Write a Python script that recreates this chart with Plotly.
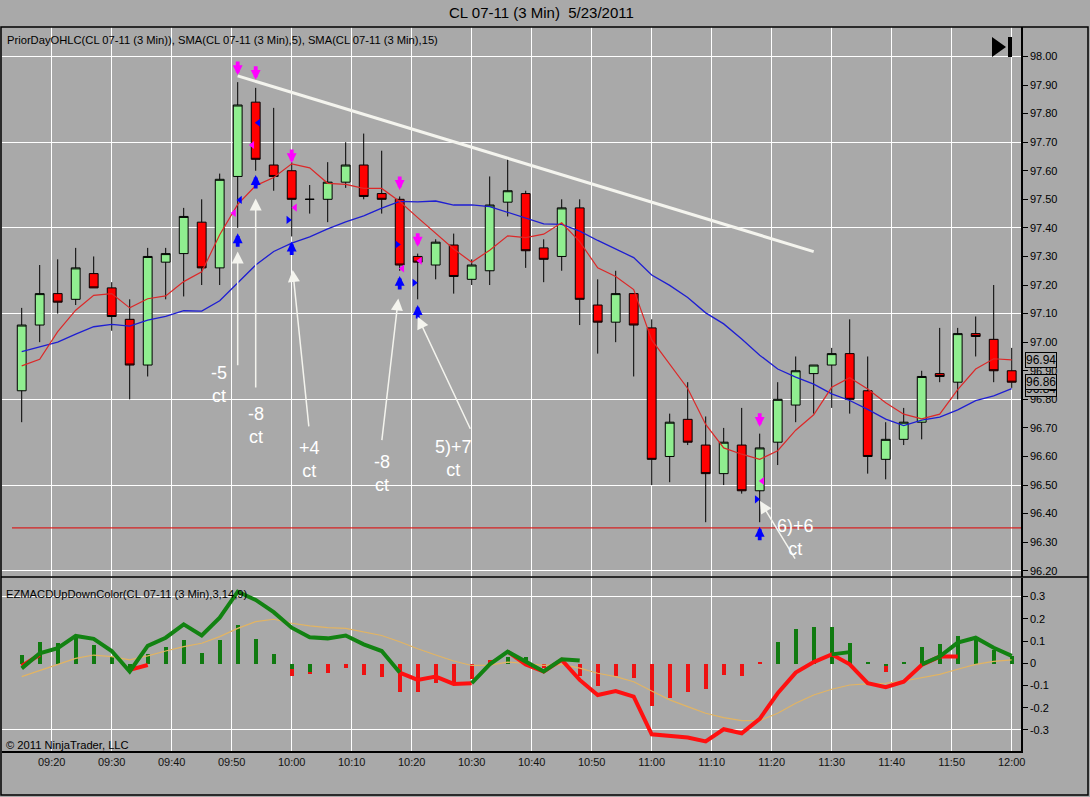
import pandas as pd
import plotly.graph_objects as go

# === DATA: CL 07-11, 3 min bars, 5/23/2011 ===
bar_times = pd.date_range('2011-05-23 09:15', periods=56, freq='3min')

opens = [96.83, 97.06, 97.17, 97.15, 97.24, 97.19, 97.08, 96.92, 97.28, 97.31,
         97.42, 97.26, 97.58, 97.84, 97.62, 97.60, 97.50, 97.50, 97.56, 97.62,
         97.52, 97.50, 97.30, 97.27, 97.34, 97.22, 97.25, 97.49, 97.52, 97.33,
         97.30, 97.47, 97.13, 97.07, 97.17, 97.05, 96.60, 96.73, 96.64, 96.54,
         96.64, 96.48, 96.65, 96.78, 96.89, 96.92, 96.96, 96.83, 96.59, 96.66,
         96.72, 96.89, 96.86, 97.03, 97.01, 96.90]
highs = [97.12, 97.27, 97.29, 97.33, 97.30, 97.21, 97.15, 97.33, 97.33, 97.47,
         97.50, 97.59, 97.91, 97.89, 97.82, 97.63, 97.55, 97.63, 97.70, 97.73,
         97.67, 97.51, 97.31, 97.36, 97.38, 97.29, 97.58, 97.64, 97.53, 97.36,
         97.50, 97.50, 97.22, 97.25, 97.17, 97.08, 96.75, 96.86, 96.74, 96.70,
         96.77, 96.68, 96.86, 96.95, 96.92, 96.98, 97.08, 96.95, 96.72, 96.77,
         96.90, 97.05, 97.05, 97.09, 97.20, 96.98]
lows = [96.72, 97.00, 97.10, 97.13, 97.19, 97.04, 96.80, 96.88, 97.15, 97.16,
        97.20, 97.20, 97.40, 97.60, 97.53, 97.37, 97.45, 97.42, 97.54, 97.50,
        97.45, 97.25, 97.15, 97.22, 97.17, 97.20, 97.20, 97.44, 97.26, 97.21,
        97.25, 97.06, 96.96, 97.00, 96.88, 96.50, 96.51, 96.64, 96.37, 96.50,
        96.47, 96.37, 96.57, 96.72, 96.75, 96.77, 96.75, 96.54, 96.52, 96.64,
        96.66, 96.86, 96.80, 96.95, 96.86, 96.84]
closes = [97.06, 97.17, 97.14, 97.26, 97.19, 97.09, 96.92, 97.30, 97.31, 97.44,
          97.26, 97.57, 97.83, 97.64, 97.58, 97.50, 97.50, 97.56, 97.62, 97.51,
          97.50, 97.27, 97.28, 97.35, 97.23, 97.27, 97.48, 97.53, 97.32, 97.29,
          97.47, 97.15, 97.07, 97.17, 97.06, 96.59, 96.72, 96.65, 96.54, 96.65,
          96.48, 96.63, 96.80, 96.90, 96.92, 96.96, 96.80, 96.60, 96.66, 96.72,
          96.88, 96.88, 97.03, 97.02, 96.90, 96.86]

sma5_warmup = [96.917, 96.94, 97.037, 97.112]
sma15_warmup = [96.967, 96.984, 97.00, 97.028, 97.054, 97.062, 97.056, 97.077,
                97.09, 97.11, 97.109, 97.145, 97.206, 97.27]

prior_day_low = 96.35
trend_times = ['2011-05-23 09:51', '2011-05-23 11:27']
trend_prices = [97.932, 97.317]

# EZMACDUpDownColor(3,14,9)
macd_up = [-0.023, 0.045, 0.068, 0.123, 0.11, 0.055, -0.037, 0.078, 0.115, 0.175,
           0.125, 0.205, 0.322, 0.285, 0.23, 0.16, 0.117, 0.112, 0.125, 0.085,
           0.055, -0.042, None, None, None, -0.09, -0.005, 0.052, 0.01, -0.037,
           0.018, 0.012, None, None, None, None, None, None, None, None,
           None, None, None, None, None, 0.04, 0.05, None, None, None,
           -0.005, 0.03, 0.093, 0.115, 0.07, 0.033]
macd_dn = [-0.012, 0.038, None, None, None, None, -0.03, -0.008, None, None,
           None, None, None, None, None, None, None, None, None, None,
           None, -0.042, -0.075, -0.06, -0.093, -0.09, None, 0.052, -0.005, -0.037,
           0.015, -0.075, -0.143, -0.125, -0.15, -0.32, -0.325, -0.334, -0.352, -0.297,
           -0.315, -0.25, -0.135, -0.042, 0.005, 0.04, -0.005, -0.09, -0.108, -0.083,
           -0.008, 0.03, 0.03, None, None, None]
signal = [-0.06, -0.033, -0.008, 0.022, 0.037, 0.03, 0.015, 0.033, 0.055, 0.075,
          0.09, 0.12, 0.157, 0.187, 0.198, 0.18, 0.168, 0.16, 0.157, 0.142,
          0.125, 0.097, 0.065, 0.037, 0.01, -0.01, -0.008, 0.005, 0.0, -0.01,
          -0.005, -0.022, -0.045, -0.06, -0.083, -0.125, -0.165, -0.195, -0.225, -0.245,
          -0.258, -0.258, -0.225, -0.18, -0.143, -0.117, -0.098, -0.093, -0.09, -0.08,
          -0.065, -0.05, -0.027, -0.005, 0.008, 0.015]
hist = [0.04, 0.10, 0.095, 0.123, 0.083, 0.03, -0.035, 0.045, 0.075, 0.105,
        0.048, 0.105, 0.175, 0.11, 0.042, -0.055, -0.048, -0.04, -0.02, -0.05,
        -0.06, -0.125, -0.128, -0.085, -0.095, -0.07, 0.015, 0.03, 0.03, -0.02,
        0.0, -0.055, -0.1, -0.055, -0.065, -0.19, -0.155, -0.128, -0.115, -0.05,
        -0.053, 0.01, 0.1, 0.155, 0.165, 0.165, 0.095, 0.005, -0.037, 0.005,
        0.075, 0.087, 0.123, 0.115, 0.06, 0.037]
hist_dir = list('GGGGGGGGGGGGGGGRRRRRRRRRRRRGGRGRRRRRRRRRRRGGGGGGRGGGGGGG')
hist_split_bars = [16, 17, 49]          # bars drawn half green, half red
hist_split_vals = [-0.025, -0.035, -0.012]

# signal arrows (bar number, price of arrow tip)
sell_bars = [13, 14, 16, 22, 23, 42]
sell_tips = [97.935, 97.918, 97.627, 97.533, 97.334, 96.704]
buy_bars = [13, 14, 16, 22, 23, 42]
buy_tips = [97.381, 97.585, 97.352, 97.232, 97.130, 96.354]

pink_times = ['09:50:23', '09:53:26', '10:00:33', '10:18:26', '10:21:23', '11:18:26']
pink_prices = [97.452, 97.69, 97.471, 97.258, 97.285, 96.514]
blue_times = ['09:51:23', '09:54:26', '09:59:26', '10:17:36', '10:20:26', '11:17:30']
blue_prices = [97.498, 97.768, 97.428, 97.342, 97.208, 96.45]
blue_symbols = ['triangle-left', 'triangle-left', 'triangle-right',
                'triangle-right', 'triangle-right', 'triangle-right']

# hand-drawn trade callouts
callout_text = ['-5<br>ct', '-8<br>ct', '+4<br>ct', '-8<br>ct', '5)+7<br>ct', '6)+6<br>ct']
callout_times = ['09:47:53', '09:53:58', '10:02:53', '10:14:58', '10:26:53', '11:23:53']
callout_prices = [96.853, 96.71, 96.591, 96.542, 96.594, 96.318]
tail_times = ['09:51:00', '09:54:00', '10:02:53', '10:15:00', '10:29:53', '11:24:03']
tail_prices = [96.914, 96.836, 96.70, 96.652, 96.692, 96.237]
tip_times = ['09:51:00', '09:54:00', '10:00:10', '10:17:46', '10:21:00', '11:18:03']
tip_prices = [97.317, 97.503, 97.253, 97.153, 97.089, 96.444]

price_ticks = [96.2, 96.3, 96.4, 96.5, 96.6, 96.7, 96.8, 96.9, 97.0, 97.1,
               97.2, 97.3, 97.4, 97.5, 97.6, 97.7, 97.8, 97.9, 98.0]
macd_ticks = [0.3, 0.2, 0.1, 0, -0.1, -0.2, -0.3]
macd_tick_text = ['0.3', '0.2', '0.1', '0', '-0.1', '-0.2', '-0.3']

# === STYLE ===
BG = '#A9A9A9'
FONT = 'Liberation Sans, Arial, sans-serif'
L, R, T, B = 2, 1021, 27, 751     # plot area edges in pixels


def px_x(p):
    return (p - L) / (R - L)


def px_y(p):
    return (B - p) / (B - T)


def day(t):
    return '2011-05-23 ' + t


s = pd.Series(closes)
sma5 = s.rolling(5).mean().tolist()
sma5[:4] = sma5_warmup
sma15 = s.rolling(15).mean().tolist()
sma15[:14] = sma15_warmup

fig = go.Figure()

# --- price panel ---
fig.add_trace(go.Candlestick(
    x=bar_times, open=opens, high=highs, low=lows, close=closes,
    increasing=dict(fillcolor='#90EE90', line=dict(color='black', width=1)),
    decreasing=dict(fillcolor='#FF0000', line=dict(color='black', width=1)),
    xaxis='x', yaxis='y', hoverinfo='skip'))

fig.add_trace(go.Scatter(x=bar_times, y=sma15, mode='lines',
                         line=dict(color='#1E1ED2', width=1.3), xaxis='x', yaxis='y3'))
fig.add_trace(go.Scatter(x=bar_times, y=sma5, mode='lines',
                         line=dict(color='#DC2828', width=1.2), xaxis='x', yaxis='y3'))
fig.add_trace(go.Scatter(x=trend_times, y=trend_prices, mode='lines',
                         line=dict(color='#F4F4EE', width=3), xaxis='x', yaxis='y3'))
fig.add_trace(go.Scatter(x=[day(t) for t in pink_times], y=pink_prices, mode='markers',
                         marker=dict(symbol='triangle-left', size=7, color='#FF00FF'),
                         xaxis='x', yaxis='y3'))
fig.add_trace(go.Scatter(x=[day(t) for t in blue_times], y=blue_prices, mode='markers',
                         marker=dict(symbol=blue_symbols, size=7, color='#0000FF'),
                         xaxis='x', yaxis='y3'))

# --- MACD panel ---
fig.add_trace(go.Bar(x=bar_times, y=hist,
                     marker=dict(color=['#107A10' if d == 'G' else '#EE1111' for d in hist_dir],
                                 line=dict(width=0)),
                     width=36000, xaxis='x2', yaxis='y2'))
fig.add_trace(go.Bar(x=[bar_times[b - 1] for b in hist_split_bars], y=hist_split_vals,
                     marker=dict(color='#107A10', line=dict(width=0)),
                     width=36000, xaxis='x2', yaxis='y2'))
fig.add_trace(go.Scatter(x=bar_times, y=signal, mode='lines',
                         line=dict(color='#E2B463', width=1.2), xaxis='x2', yaxis='y4'))
fig.add_trace(go.Scatter(x=bar_times, y=macd_dn, mode='lines', connectgaps=False,
                         line=dict(color='#FF1010', width=4), xaxis='x2', yaxis='y4'))
fig.add_trace(go.Scatter(x=bar_times, y=macd_up, mode='lines', connectgaps=False,
                         line=dict(color='#128212', width=4), xaxis='x2', yaxis='y4'))

annotations = []
for b, p in zip(sell_bars, sell_tips):
    annotations.append(dict(x=bar_times[b - 1], y=p, xref='x', yref='y', text='',
                            showarrow=True, ax=0, ay=-15, arrowhead=2, arrowsize=0.52,
                            arrowwidth=3.8, arrowcolor='#FF00FF'))
for b, p in zip(buy_bars, buy_tips):
    annotations.append(dict(x=bar_times[b - 1], y=p, xref='x', yref='y', text='',
                            showarrow=True, ax=0, ay=15, arrowhead=2, arrowsize=0.52,
                            arrowwidth=3.8, arrowcolor='#0000FF'))
for tx, ty, ax, ay in zip(tip_times, tip_prices, tail_times, tail_prices):
    annotations.append(dict(x=day(tx), y=ty, xref='x', yref='y', text='',
                            showarrow=True, axref='x', ayref='y', ax=day(ax), ay=ay,
                            arrowhead=2, arrowsize=1.6, arrowwidth=1.5, arrowcolor='#F4F4EE'))
for txt, t, p in zip(callout_text, callout_times, callout_prices):
    annotations.append(dict(x=day(t), y=p, xref='x', yref='y', text=txt, showarrow=False,
                            font=dict(family=FONT, size=18, color='white'),
                            xanchor='center', yanchor='middle'))

# last-value price markers on the price axis
for v in [sma15[-1], closes[-1], sma5[-1]]:
    annotations.append(dict(x=1, y=v, xref='paper', yref='y', text=f'{v:.2f}',
                            showarrow=False, xanchor='left', xshift=4,
                            font=dict(family=FONT, size=12, color='black'),
                            bgcolor=BG, bordercolor='black', borderwidth=1, borderpad=0))

annotations += [
    dict(x=px_x(541), y=px_y(13), xref='paper', yref='paper', showarrow=False,
         text='CL 07-11 (3 Min)&nbsp; 5/23/2011', font=dict(family=FONT, size=15, color='black'),
         xanchor='center', yanchor='middle'),
    dict(x=px_x(5), y=px_y(40), xref='paper', yref='paper', showarrow=False,
         text='PriorDayOHLC(CL 07-11 (3 Min)), SMA(CL 07-11 (3 Min),5), SMA(CL 07-11 (3 Min),15)',
         font=dict(family=FONT, size=11.2, color='black'), xanchor='left', yanchor='middle'),
    dict(x=px_x(4), y=px_y(594), xref='paper', yref='paper', showarrow=False,
         text='EZMACDUpDownColor(CL 07-11 (3 Min),3,14,9)',
         font=dict(family=FONT, size=11.2, color='black'), xanchor='left', yanchor='middle'),
    dict(x=px_x(4), y=px_y(745), xref='paper', yref='paper', showarrow=False,
         text='© 2011 NinjaTrader, LLC',
         font=dict(family=FONT, size=11.2, color='black'), xanchor='left', yanchor='middle'),
]

shapes = [
    # prior day low
    dict(type='line', xref='x domain', yref='y', x0=px_x(12), x1=1,
         y0=prior_day_low, y1=prior_day_low, line=dict(color='#E00000', width=1)),
    # panel frames
    dict(type='rect', xref='paper', yref='paper', x0=px_x(1), x1=px_x(1088),
         y0=px_y(795), y1=px_y(27), line=dict(color='black', width=1.5)),
    dict(type='line', xref='paper', yref='paper', x0=px_x(1), x1=px_x(1088),
         y0=px_y(577), y1=px_y(577), line=dict(color='black', width=1.5)),
    # "scroll to end" button
    dict(type='path', xref='paper', yref='paper', fillcolor='black', line=dict(width=0),
         path=f'M {px_x(992)},{px_y(37)} L {px_x(1006)},{px_y(47)} L {px_x(992)},{px_y(57)} Z'),
    dict(type='rect', xref='paper', yref='paper', fillcolor='black', line=dict(width=0),
         x0=px_x(1008), x1=px_x(1012), y0=px_y(57), y1=px_y(37)),
]

x_range = ['2011-05-23 09:11:43', '2011-05-23 12:01:33']
xgrid = dict(showgrid=True, gridcolor='white', gridwidth=1, dtick=600000,
             tick0='2011-05-23 09:20', range=x_range, zeroline=False)
price_range = [96.180, 98.103]
macd_range = [-0.395, 0.386]
main_bottom = px_y(576.5)
macd_top = px_y(577.5)

fig.update_layout(
    width=1090, height=797,
    margin=dict(l=L, r=1090 - R, t=T, b=797 - B, pad=0),
    paper_bgcolor=BG, plot_bgcolor=BG,
    showlegend=False, barmode='overlay', bargap=0,
    font=dict(family=FONT, size=11, color='black'),
    xaxis=dict(domain=[0, 1], anchor='y', showticklabels=False, ticks='',
               rangeslider=dict(visible=False), **xgrid),
    xaxis2=dict(domain=[0, 1], anchor='y2', matches='x', showticklabels=True,
                tickformat='%H:%M', ticks='', showline=True, linecolor='black',
                linewidth=1.5, tickfont=dict(size=11, color='#111111'), **xgrid),
    yaxis=dict(domain=[main_bottom, 1], anchor='x', range=price_range, tick0=96.2,
               dtick=0.3, showgrid=True, gridcolor='white', showticklabels=False,
               ticks='', zeroline=False, side='right'),
    yaxis3=dict(overlaying='y', anchor='x', side='right', range=price_range,
                tickmode='array', tickvals=price_ticks, tickformat='.2f',
                showgrid=False, zeroline=False,
                ticks='outside', ticklen=5, tickcolor='black', showline=True,
                linecolor='black', linewidth=1.5, tickfont=dict(size=11)),
    yaxis2=dict(domain=[0, macd_top], anchor='x2', range=macd_range,
                tickvals=[-0.3, 0.3], showgrid=True, gridcolor='white',
                showticklabels=False, ticks='', zeroline=False, side='right'),
    yaxis4=dict(overlaying='y2', anchor='x2', side='right', range=macd_range,
                tickvals=macd_ticks, ticktext=macd_tick_text,
                showgrid=False, zeroline=False, ticks='outside', ticklen=5,
                tickcolor='black', showline=True, linecolor='black', linewidth=1.5,
                tickfont=dict(size=11)),
    annotations=annotations,
    shapes=shapes,
)

fig.write_html('out.html', config={'displayModeBar': False},
               post_script="document.body.style.margin = '0px';")
